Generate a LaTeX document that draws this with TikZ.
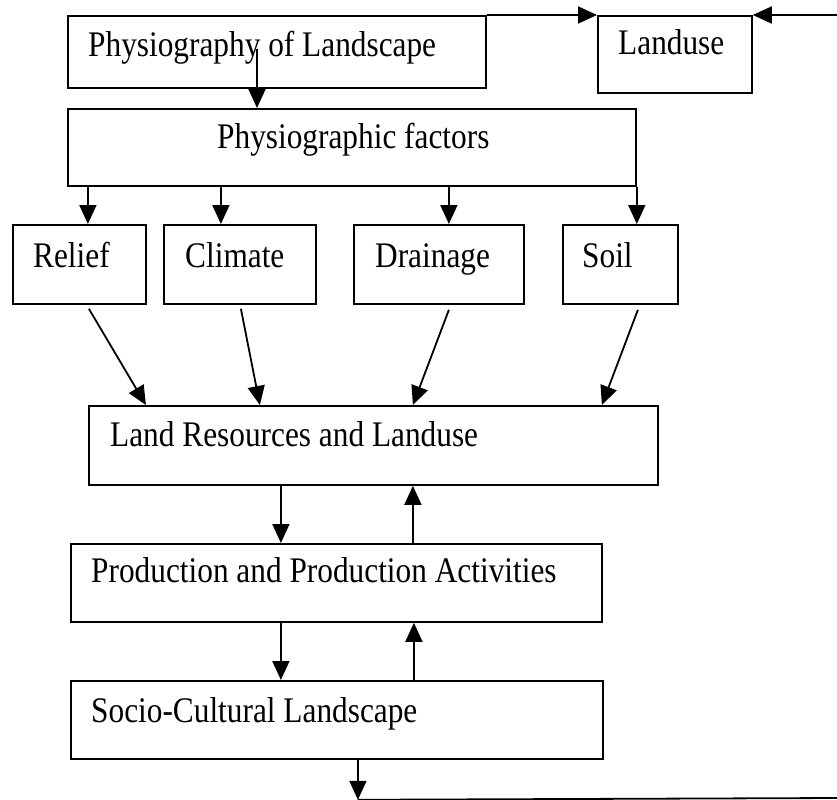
\documentclass[tikz,border=0pt]{standalone}
\usepackage{fontspec}
\setmainfont{Liberation Serif}[FakeStretch=0.87]
\usetikzlibrary{arrows.meta,calc}
\begin{document}
\begin{tikzpicture}[x=1bp,y=-1bp,
  box/.style={draw, line width=1.8bp, rectangle, inner sep=0pt, anchor=north west},
  lbl/.style={anchor=base west, inner sep=0pt, font=\fontsize{36bp}{42bp}\selectfont},
  conn/.style={line width=1.8bp},
  arr/.style={conn, -{Triangle[length=19bp,width=17bp]}}]
\useasboundingbox (0,0) rectangle (837,800);
% boxes
\node[box, minimum width=418bp, minimum height=72bp] (phys) at (67,15) {};
\node[box, minimum width=154bp, minimum height=77bp] (landuse) at (597,15) {};
\node[box, minimum width=568bp, minimum height=77bp] (factors) at (67,108) {};
\node[box, minimum width=133bp, minimum height=79bp] (relief) at (12,224) {};
\node[box, minimum width=152bp, minimum height=79bp] (climate) at (163,224) {};
\node[box, minimum width=170bp, minimum height=79bp] (drainage) at (353,224) {};
\node[box, minimum width=115bp, minimum height=79bp] (soil) at (562,224) {};
\node[box, minimum width=569bp, minimum height=79bp] (landres) at (88,405) {};
\node[box, minimum width=531bp, minimum height=78bp] (prod) at (70,543) {};
\node[box, minimum width=532bp, minimum height=78bp] (socio) at (70,680) {};
% labels
\node[lbl] (physT) at (88,57) {Physiography of Landscape};
\node[lbl] (landuseT) at (618,55) {Landuse};
\node[lbl] (factorsT) at (217,148) {Physiographic factors};
\node[lbl] (reliefT) at (33,267) {Relief};
\node[lbl] (climateT) at (185,267) {Climate};
\node[lbl] (drainageT) at (375,267) {Drainage};
\node[lbl] (soilT) at (582,267) {Soil};
\node[lbl] (landresT) at (110,446) {Land Resources and Landuse};
\node[lbl] (prodT) at (91,582) {Production and Production Activities};
\node[lbl] (socioT) at (91,722) {Socio-Cultural Landscape};
% top connectors
\draw[arr] (phys.north east) -- (landuse.north west);
\coordinate (rightin) at (837,15);
\draw[arr] (rightin) -- (landuse.north east);
\coordinate (pstart) at (257,49);
\draw[arr] (pstart) -- (pstart |- factors.north);
% factors to the four boxes
\coordinate (rtip) at ([xshift=8.5bp]relief.north);
\coordinate (ctip) at ([xshift=-19bp]climate.north);
\coordinate (dtip) at ([xshift=10bp]drainage.north);
\draw[arr] (rtip |- factors.south) -- (rtip);
\draw[arr] (ctip |- factors.south) -- (ctip);
\draw[arr] (dtip |- factors.south) -- (dtip);
\draw[arr] (factors.south east) -- (factors.south east |- soil.north);
% diagonals to land resources
\coordinate (rs) at ([xshift=9.5bp,yshift=-4bp]relief.south);
\coordinate (cs) at ([xshift=1bp,yshift=-4bp]climate.south);
\coordinate (ds) at ([xshift=10bp,yshift=-5bp]drainage.south);
\coordinate (ss) at ([xshift=17.5bp,yshift=-5bp]soil.south);
\draw[arr] (rs) -- ([xshift=-227.5bp]landres.north);
\draw[arr] (cs) -- ([xshift=-113.5bp]landres.north);
\draw[arr] (ds) -- ([xshift=39.5bp]landres.north);
\draw[arr] (ss) -- ([xshift=228.5bp]landres.north);
% land resources <-> production
\coordinate (lpd) at ([xshift=-92.5bp]landres.south);
\coordinate (lpu) at ([xshift=39.5bp]landres.south);
\draw[arr] (lpd) -- (lpd |- prod.north);
\draw[arr] (lpu |- prod.north) -- (lpu);
% production <-> socio
\coordinate (psd) at ([xshift=-55.5bp]prod.south);
\coordinate (psu) at ([xshift=77.5bp]prod.south);
\draw[arr] (psd) -- (psd |- socio.north);
\draw[arr] (psu |- socio.north) -- (psu);
% socio bottom
\coordinate (corner) at ([xshift=21bp,yshift=-40bp]socio.south);
\coordinate (rightout) at (837,798);
\draw[arr] (socio.south -| corner) -- (corner);
\draw[conn] (corner) -- (rightout);
\end{tikzpicture}
\end{document}
